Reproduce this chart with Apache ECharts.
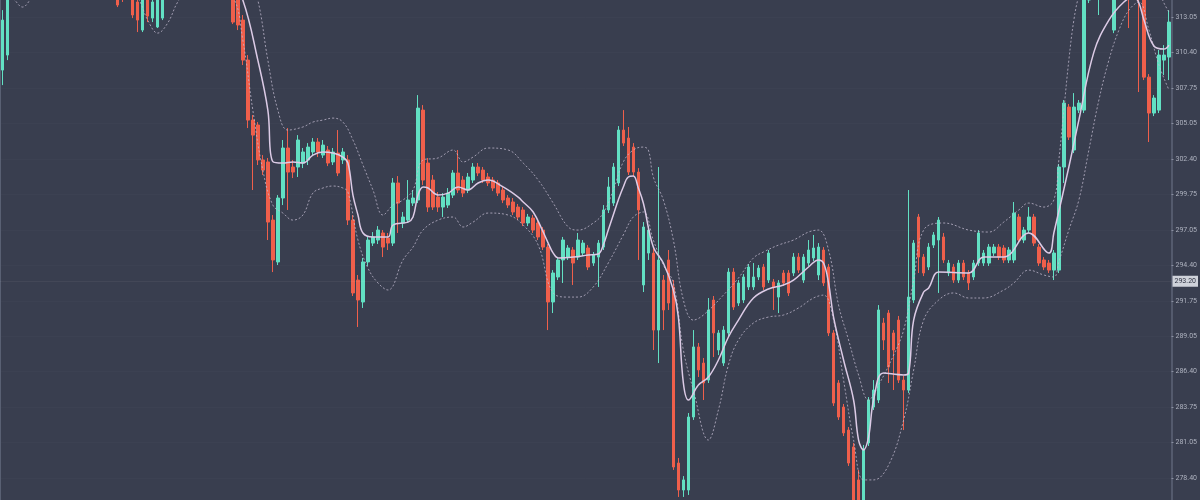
<!DOCTYPE html>
<html><head><meta charset="utf-8">
<script src="https://cdn.jsdelivr.net/npm/echarts@6/dist/echarts.min.js"></script>
<style>html,body{margin:0;padding:0;background:#393e4f;}#chart{width:1200px;height:500px;}</style>
</head><body><div id="chart"></div>
<script>
// OHLC as [open, close, low, high]
const candles = [
[309.08,312.84,307.95,313.59],[310.21,315.10,309.83,315.85],[315.1,315.8,314.9,316.2],[315.8,316.4,315.5,316.9],
[316.4,316.1,315.8,316.8],[316.1,316.9,315.9,317.3],[316.9,317.4,316.6,317.8],[317.4,317.0,316.7,317.7],
[317.0,317.6,316.8,318.0],[317.6,317.3,317.0,318.1],[317.3,316.8,316.5,317.6],[316.8,317.2,316.5,317.5],
[317.2,316.6,316.3,317.4],[316.6,316.9,316.2,317.2],[316.9,316.3,316.0,317.1],[316.3,315.9,315.6,316.6],
[315.9,316.2,315.5,316.5],[316.2,315.7,315.3,316.4],[315.7,315.4,315.0,316.0],[315.4,315.8,315.1,316.1],
[315.8,315.3,314.9,316.0],[315.3,315.0,314.7,315.6],[315.0,315.3,314.6,315.7],[315.10,313.97,313.82,315.47],
[314.72,314.50,314.20,315.47],[314.50,315.25,314.42,315.85],[314.72,313.22,312.99,315.10],[314.20,312.84,311.94,314.72],
[312.09,314.35,311.94,314.57],[314.35,313.14,312.69,314.95],[312.99,314.20,312.69,314.72],[312.32,314.35,312.24,315.10],
[312.99,314.72,312.84,315.25],[314.95,315.47,314.65,315.85],[315.5,316.0,315.2,316.3],[316.0,316.6,315.8,316.9],
[316.6,316.3,316.0,317.0],[316.3,316.9,316.1,317.2],[316.9,317.3,316.6,317.6],[317.3,316.8,316.5,317.5],
[316.8,317.1,316.4,317.4],[317.1,316.5,316.2,317.3],[316.5,316.8,316.2,317.0],[316.8,316.2,315.9,317.0],
[316.2,315.8,315.4,316.4],[315.8,315.6,315.2,316.1],[314.72,312.69,312.54,315.47],[315.10,312.47,312.09,315.47],
[312.84,309.83,309.46,313.22],[309.83,305.32,304.72,310.21],[305.32,304.19,300.06,305.70],[304.95,302.32,301.94,305.17],
[302.32,301.56,301.19,302.69],[302.17,297.65,296.30,302.47],[297.80,294.80,293.89,298.18],[294.65,299.46,294.42,299.68],
[299.46,303.22,298.93,303.82],[303.22,301.41,298.56,304.72],[301.79,301.41,300.96,302.32],[301.79,303.82,301.04,304.19],
[302.09,302.92,301.71,303.22],[302.32,303.29,301.94,303.59],[302.92,303.67,302.62,303.97],[303.67,302.92,302.54,303.97],
[302.69,303.44,302.47,303.82],[303.07,302.09,301.86,303.37],[302.17,302.92,301.94,303.22],[302.84,301.34,301.11,304.57],
[302.32,302.92,302.02,303.22],[302.32,297.80,297.43,302.69],[297.80,292.32,292.09,298.18],[293.29,291.79,289.76,293.67],
[291.64,294.65,291.19,294.95],[294.65,296.30,294.35,296.60],[296.07,296.53,295.85,296.90],[296.30,297.05,296.00,297.35],
[296.83,295.77,295.02,297.05],[296.45,296.07,295.55,296.83],[296.07,300.59,295.85,300.96],[300.59,299.08,296.83,301.11],
[297.58,298.03,297.20,298.41],[297.80,299.31,297.58,300.81],[299.08,299.46,298.86,300.06],[299.31,306.22,299.08,307.20],
[306.07,300.81,300.44,306.45],[302.09,298.78,298.41,302.47],[300.81,298.78,298.56,301.19],[299.53,298.78,298.41,299.91],
[298.78,299.53,298.03,299.83],[298.93,299.83,298.71,300.21],[299.68,301.34,299.46,301.56],[301.34,300.06,299.83,303.07],
[300.81,299.83,299.53,301.11],[300.06,301.04,299.83,301.34],[300.81,301.79,300.59,302.09],[301.79,301.34,301.11,302.09],
[301.56,300.81,300.59,301.79],[301.04,300.59,300.36,301.34],[300.81,300.21,299.98,301.04],[300.59,299.83,299.61,300.81],
[300.06,299.31,299.08,300.29],[299.46,298.93,298.71,299.68],[299.16,298.41,298.18,299.46],[298.78,298.03,297.80,299.01],
[298.56,297.58,297.35,298.78],[297.58,298.03,297.35,298.26],[297.95,297.05,296.83,298.18],[297.58,296.53,296.30,297.80],
[297.05,295.77,295.55,297.28],[295.77,291.64,289.53,296.00],[291.64,293.82,290.81,294.04],[293.52,294.80,293.29,295.02],
[294.80,296.30,293.07,296.53],[295.02,295.70,294.80,295.92],[295.55,294.57,292.92,295.77],[295.02,296.30,294.80,296.83],
[295.32,296.07,295.10,296.30],[295.70,294.27,294.04,295.92],[294.57,295.17,294.35,295.40],[295.02,296.07,292.77,296.30],
[295.77,298.56,295.55,298.93],[298.56,300.29,298.33,301.04],[299.08,301.79,298.86,302.09],[300.59,304.57,300.36,304.87],
[304.57,303.59,303.37,306.07],[303.97,301.41,301.19,304.80],[303.29,301.41,301.11,303.59],[301.41,298.56,294.80,301.71],
[292.92,297.28,292.39,297.65],[295.32,297.05,294.80,297.35],[295.32,289.53,288.03,295.70],[289.53,294.80,287.05,301.79],
[293.29,291.04,289.53,293.67],[294.80,291.56,291.04,295.55],[292.77,279.23,279.01,293.29],[279.53,277.50,276.98,279.91],
[277.50,278.26,276.98,278.55],[277.50,282.99,277.13,283.29],[282.99,288.26,282.77,289.53],[288.26,286.53,286.00,288.56],
[287.05,285.55,284.27,287.43],[285.77,291.04,285.55,291.94],[291.79,289.31,287.50,292.09],[288.03,289.31,287.65,289.53],
[287.05,289.53,286.83,289.83],[289.31,293.89,289.08,294.19],[293.89,291.26,291.04,294.19],[291.56,293.07,291.34,293.29],
[291.79,293.52,291.56,293.74],[292.77,294.27,292.54,294.50],[292.77,293.52,292.54,294.57],[293.52,294.19,293.29,294.42],
[294.27,292.77,292.54,294.50],[293.29,295.32,293.07,295.55],[293.14,292.77,291.04,293.37],[292.01,293.07,290.81,293.29],
[293.82,293.07,292.84,294.04],[293.82,292.32,292.09,294.04],[293.82,295.02,293.59,295.32],[295.02,294.04,293.82,295.32],
[293.29,295.02,293.07,295.25],[294.57,295.55,294.35,296.30],[294.95,295.70,294.72,296.68],[293.67,295.77,293.29,296.07],
[295.55,293.07,292.84,295.77],[294.27,289.31,289.08,294.50],[289.31,284.04,283.82,289.53],[285.55,282.99,282.77,285.77],
[283.74,281.79,281.56,283.97],[282.01,279.53,279.31,282.24],[280.74,276.75,276.37,281.04],[278.26,276.75,276.37,279.01],
[276.75,280.51,276.37,280.89],[281.04,284.27,280.81,284.49],[283.74,285.02,283.52,285.77],[284.27,291.04,284.04,291.41],
[290.06,288.78,288.03,290.44],[290.81,286.75,285.55,291.04],[289.31,288.03,285.02,289.53],[290.28,285.77,285.55,290.59],
[285.77,285.02,282.01,286.08],[285.02,292.01,284.80,300.06],[291.79,296.07,291.56,296.30],[298.03,295.02,293.82,298.26],
[295.02,293.82,293.59,295.25],[294.27,295.77,294.04,296.07],[295.92,296.68,295.70,296.90],[296.30,297.80,292.32,298.03],
[296.53,294.80,294.57,296.83],[293.82,294.57,293.59,294.80],[294.27,293.29,293.07,294.50],[293.29,294.57,293.07,294.80],
[294.57,293.52,293.29,294.80],[293.82,293.07,292.54,294.04],[293.52,294.57,293.29,294.80],[294.57,296.83,294.35,297.05],
[294.57,295.32,294.35,295.55],[294.57,295.77,294.35,296.00],[295.32,295.77,295.10,296.00],[295.77,295.02,294.80,296.00],
[295.70,294.80,294.57,295.92],[294.80,295.55,294.57,295.77],[294.80,298.33,294.57,299.16],[298.03,296.30,296.07,298.26],
[296.30,297.05,296.07,297.28],[297.05,298.03,296.83,298.78],[298.03,296.07,295.85,298.26],[295.77,294.57,294.35,296.00],
[294.80,294.27,294.04,295.02],[294.57,294.04,293.82,294.80],[294.04,295.32,293.29,295.55],[294.04,301.79,293.82,302.02],
[301.79,306.60,300.59,306.83],[306.30,304.04,303.82,306.53],[303.07,306.30,302.84,307.35],[306.07,306.60,305.85,306.83],
[306.07,314.72,305.85,315.10],[314.35,315.85,314.12,316.22],[315.10,316.22,314.95,316.60],[315.47,316.45,313.22,316.60],
[315.85,315.10,314.72,316.22],[315.47,316.22,315.10,316.60],[312.09,314.72,311.86,315.10],[315.10,315.85,314.72,316.22],
[315.85,314.95,314.65,316.22],[315.47,314.50,312.24,315.85],[314.72,315.47,314.35,315.85],[315.10,314.57,307.43,315.47],
[314.72,308.55,308.33,315.10],[308.55,305.85,303.67,308.78],[305.85,306.98,305.62,307.20],[306.07,310.21,305.85,310.59],
[309.83,310.21,308.71,310.96],[310.06,312.69,308.33,313.59]
];
const categories = candles.map((_, i) => 'C' + (i + 1));

// indicator lines: [candle index, value]
const maLine = [[0,315.2],[10,316.4],[20,316.2],[30,314.6],[40,316.0],[46,315.3],[48,314.35],[51,309.83],[53,306.07],[54,302.2],[56,302.09],[58,302.17],[60,302.09],[62,302.69],[64,302.92],[66,302.84],[68,302.54],[69,302.09],[70,299.68],[71,298.18],[72,296.83],[74,296.53],[77,296.53],[78,297.43],[81,297.65],[82,298.03],[83,299.68],[84,300.29],[85,300.21],[87,299.68],[89,299.83],[91,300.29],[93,300.06],[95,300.59],[97,300.81],[100,300.29],[103,299.53],[104,299.16],[106,298.41],[108,296.90],[109,296.07],[110,295.32],[111,294.95],[114,295.02],[117,295.17],[119,295.25],[120,295.92],[121,297.05],[122,298.18],[123,299.31],[124,300.29],[125,301.04],[126,301.11],[127,300.21],[128,299.08],[130,295.77],[132,294.57],[134,292.54],[135,290.51],[136,285.55],[137,284.27],[139,285.40],[141,286.00],[143,287.28],[145,289.01],[147,290.28],[150,291.94],[153,292.62],[156,292.92],[158,293.29],[161,294.27],[163,294.80],[164,294.57],[165,293.07],[166,290.51],[168,287.28],[170,284.27],[171,281.26],[172,280.51],[173,281.49],[174,284.27],[176,286.30],[180,286.15],[181,286.30],[182,290.28],[184,292.39],[185,292.69],[187,293.89],[193,293.82],[196,295.02],[200,295.02],[205,296.83],[209,295.32],[210,296.83],[213,301.79],[215,305.32],[218,310.43],[221,312.84],[224,314.20],[226,314.57],[227,314.12],[228,312.84],[230,310.89],[232,310.66],[233,310.96]];
const upperBand = [[0,319.0],[10,319.5],[20,318.8],[30,318.0],[40,318.5],[46,318.0],[48,316.6],[50,314.72],[51,314.35],[53,309.83],[55,306.07],[57,304.57],[60,304.80],[62,305.17],[64,305.32],[66,305.47],[68,305.17],[70,303.82],[72,301.94],[74,300.06],[76,298.18],[78,298.93],[80,299.31],[82,300.06],[84,302.32],[87,302.47],[90,303.07],[92,302.17],[94,302.54],[97,303.22],[101,303.07],[104,302.09],[107,300.81],[110,299.08],[113,297.28],[115,297.05],[118,297.58],[120,298.33],[122,300.06],[124,302.17],[126,303.07],[128,303.29],[129,303.07],[130,301.04],[132,299.31],[134,296.30],[136,291.79],[138,290.28],[140,290.66],[144,292.16],[147,293.44],[150,294.95],[152,295.40],[155,295.92],[158,296.30],[161,296.90],[163,297.05],[165,295.55],[167,291.41],[169,288.78],[171,286.15],[173,284.27],[175,285.40],[178,287.65],[180,289.53],[182,293.29],[184,297.05],[188,297.58],[193,297.05],[197,296.90],[200,297.65],[203,298.56],[205,299.08],[208,298.78],[210,299.31],[211,302.32],[212,306.07],[213,309.83],[214,312.84],[215,314.72],[217,317.4],[222,318.9],[228,317.4],[230,315.85],[232,314.12],[233,313.44]];
const lowerBand = [[0,314.9],[2,314.5],[4,313.82],[6,314.6],[8,315.3],[15,315.5],[22,315.0],[25,314.8],[27,314.5],[29,312.84],[31,311.86],[33,312.62],[35,314.2],[37,315.1],[42,315.4],[46,314.6],[48,311.34],[50,306.07],[52,301.56],[54,298.93],[56,298.33],[58,297.80],[60,298.18],[62,299.83],[64,300.21],[66,300.36],[68,300.21],[69,299.91],[71,296.30],[73,294.19],[75,293.07],[77,292.54],[80,294.80],[82,295.77],[84,297.05],[87,297.80],[90,298.03],[92,297.28],[94,297.65],[97,298.33],[101,298.18],[104,297.43],[107,295.92],[110,292.32],[113,292.01],[115,292.01],[118,292.77],[121,294.57],[124,296.68],[126,298.03],[128,298.41],[130,296.30],[132,294.42],[134,293.07],[136,288.03],[138,285.02],[141,281.26],[143,283.52],[145,286.90],[147,288.78],[150,290.06],[153,290.51],[156,290.66],[159,291.19],[162,291.94],[164,292.16],[166,290.28],[168,285.77],[170,281.26],[172,278.26],[174,278.26],[177,279.38],[180,282.77],[182,286.53],[184,290.28],[187,291.79],[190,292.32],[193,291.94],[196,291.94],[200,292.54],[202,293.07],[205,294.04],[208,293.67],[210,293.52],[211,294.65],[213,297.05],[215,299.31],[217,303.07],[219,306.83],[221,309.83],[223,312.09],[225,313.59],[227,314.20],[229,312.09],[231,309.46],[233,307.58]];

const tickValues = [278.4, 281.0667, 283.7333, 286.4, 289.0667, 291.7333, 294.4, 297.0667, 299.7333, 302.4, 305.0667, 307.7333, 310.4, 313.0667];
const tickLabels = ['278.40','281.05','283.75','286.40','289.05','291.75','294.40','297.05','299.75','302.40','305.05','307.75','310.40','313.05'];
const lastPrice = 293.2;
const lastPriceLabel = '293.20';

const Y_MIN = 276.75, Y_MAX = 314.35;
function labelFor(v) {
  let best = 0, d = Infinity;
  tickValues.forEach((t, i) => { const dd = Math.abs(t - v); if (dd < d) { d = dd; best = i; } });
  return tickLabels[best];
}

const UP = '#62e0c3', DOWN = '#ef5f4b';
const chart = echarts.init(document.getElementById('chart'));
chart.setOption({
  backgroundColor: '#393e4f',
  animation: false,
  grid: { left: 0, right: 28, top: 0, bottom: 0 },
  xAxis: { type: 'category', data: categories, boundaryGap: true, show: false },
  yAxis: [{
    type: 'value', position: 'right', min: Y_MIN, max: Y_MAX,
    axisLine: { show: true, lineStyle: { color: '#5e6477', width: 1.5 } },
    axisTick: { show: true, length: 2, customValues: tickValues, lineStyle: { color: '#8a8fa0' } },
    axisLabel: { customValues: tickValues, margin: 4, fontSize: 7, color: '#aeb2bf', fontFamily: 'Roboto', formatter: labelFor },
    splitLine: { show: true, lineStyle: { color: 'rgba(255,255,255,0.02)' } }
  }, {
    type: 'value', position: 'left', min: Y_MIN, max: Y_MAX,
    axisLine: { show: true, lineStyle: { color: '#596073', width: 1 } },
    axisTick: { show: false }, axisLabel: { show: false }, splitLine: { show: false }
  }],
  series: [
    {
      type: 'candlestick', data: candles, barWidth: 3, z: 2,
      itemStyle: { color: UP, color0: DOWN, borderColor: UP, borderColor0: DOWN, borderWidth: 1 },
      markLine: {
        silent: true, symbol: 'none', animation: false,
        lineStyle: { color: 'rgba(255,255,255,0.05)', type: 'solid', width: 1 },
        label: { position: 'end', distance: 1, formatter: lastPriceLabel, backgroundColor: '#cfd2da', color: '#2e3242', fontSize: 7, fontFamily: 'Roboto', padding: [2, 2] },
        data: [{ yAxis: lastPrice }]
      }
    },
    { type: 'line', data: upperBand, showSymbol: false, smooth: 0.4, z: 3, silent: true,
      lineStyle: { color: 'rgba(196,188,210,0.75)', width: 1, type: [2, 2] } },
    { type: 'line', data: lowerBand, showSymbol: false, smooth: 0.4, z: 3, silent: true,
      lineStyle: { color: 'rgba(196,188,210,0.75)', width: 1, type: [2, 2] } },
    { type: 'line', data: maLine, showSymbol: false, smooth: 0.4, z: 4, silent: true,
      lineStyle: { color: '#dccbe6', width: 1.5 } }
  ]
});
</script>
</body></html>
